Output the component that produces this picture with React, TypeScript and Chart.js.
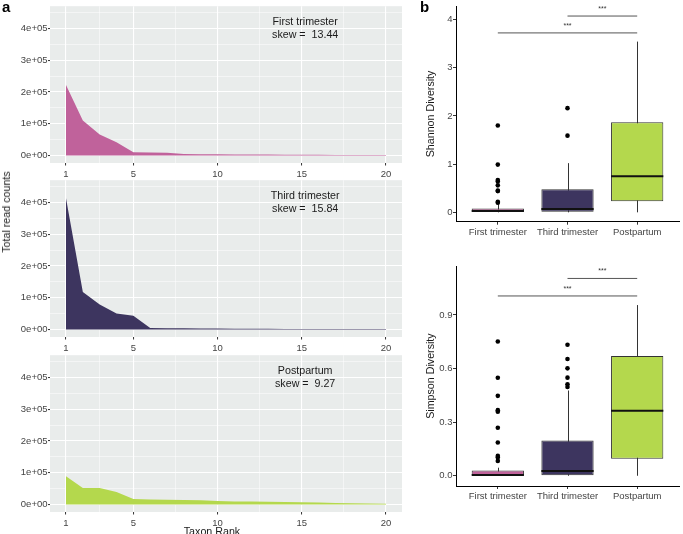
import React, { useEffect, useRef } from "react";
import { Chart, registerables } from "chart.js";

Chart.register(...registerables);

const FONT = '"Liberation Sans", Arial, Helvetica, sans-serif';
Chart.defaults.font.family = FONT;

// ---------- Panel a data ----------
const taxonRanks = [1, 2, 3, 4, 5, 6, 7, 8, 9, 10, 11, 12, 13, 14, 15, 16, 17, 18, 19, 20];
const firstTrimesterCounts = [222000, 110000, 66000, 42000, 10500, 9500, 8500, 5000, 4000, 3500, 3200, 3000, 2800, 2500, 2200, 2000, 1800, 1600, 1400, 1200];
const thirdTrimesterCounts = [413000, 118000, 79000, 50000, 43000, 5000, 4000, 3500, 3000, 2800, 2500, 2200, 2000, 1800, 1600, 1500, 1400, 1300, 1200, 1100];
const postpartumCounts = [88500, 51500, 51500, 39000, 17500, 16000, 15000, 14000, 13000, 11000, 9500, 9000, 8500, 8000, 7000, 6000, 5000, 4000, 3000, 2000];

const groupNames = ["First trimester", "Third trimester", "Postpartum"];
const skewValues = ["13.44", "15.84", "9.27"];
const groupColors = ["#c0629b", "#3d355f", "#b4d84d"];

const rankMajorTicks = [1, 5, 10, 15, 20];
const rankMinorTicks = [3, 7.5, 12.5, 17.5];
const countMajorTicks = [0, 100000, 200000, 300000, 400000];
const countMinorTicks = [50000, 150000, 250000, 350000, 450000];

// ---------- Panel b data ----------
const shannonLow = [0, 0, 0];
const shannonQ1 = [0, 0, 0.23];
const shannonMedian = [0.03, 0.07, 0.75];
const shannonQ3 = [0.08, 0.48, 1.87];
const shannonHigh = [0.17, 1.02, 3.54];
const shannonOutliers = [
  [1.8, 0.99, 0.67, 0.64, 0.56, 0.45, 0.44, 0.22, 0.2],
  [2.16, 1.59],
  [],
];
const shannonTicks = [0, 1, 2, 3, 4];
const shannonBrackets = [
  { from: 2, to: 3, y: 4.07, label: "***" },
  { from: 1, to: 3, y: 3.72, label: "***" },
];

const simpsonLow = [0, 0, 0];
const simpsonQ1 = [0, 0, 0.095];
const simpsonMedian = [0.004, 0.026, 0.364];
const simpsonQ3 = [0.03, 0.197, 0.67];
const simpsonHigh = [0.045, 0.477, 0.955];
const simpsonOutliers = [
  [0.751, 0.548, 0.447, 0.367, 0.358, 0.269, 0.186, 0.111, 0.102, 0.083],
  [0.733, 0.653, 0.601, 0.549, 0.512, 0.497],
  [],
];
const simpsonTicks = [0, 0.3, 0.6, 0.9];
const simpsonBrackets = [
  { from: 2, to: 3, y: 1.104, label: "***" },
  { from: 1, to: 3, y: 1.006, label: "***" },
];

const allCounts = [firstTrimesterCounts, thirdTrimesterCounts, postpartumCounts];

const TICK_COLOR = "#444444";

const panelBgPlugin = {
  id: "panelBg",
  beforeDraw(chart: any) {
    const { ctx, chartArea } = chart;
    ctx.save();
    ctx.fillStyle = "#e9eceb";
    ctx.fillRect(chartArea.left, chartArea.top, chartArea.right - chartArea.left, chartArea.bottom - chartArea.top);
    ctx.restore();
  },
};

function makeAreaConfig(idx: number): any {
  const isMajorX = (v: number) => rankMajorTicks.includes(v);
  const isMajorY = (v: number) => countMajorTicks.includes(v);
  const annotPlugin = {
    id: "annot" + idx,
    afterDatasetsDraw(chart: any) {
      const { ctx, scales } = chart;
      const x = scales.x.getPixelForValue(15.2);
      ctx.save();
      ctx.font = `10.7px ${FONT}`;
      ctx.fillStyle = "#1a1a1a";
      ctx.textAlign = "center";
      ctx.textBaseline = "middle";
      ctx.fillText(groupNames[idx], x, scales.y.getPixelForValue(420000));
      ctx.fillText("skew =  " + skewValues[idx], x, scales.y.getPixelForValue(380000));
      ctx.restore();
    },
  };
  return {
    type: "line",
    data: {
      datasets: [
        {
          data: taxonRanks.map((r, i) => ({ x: r, y: allCounts[idx][i] })),
          fill: "origin",
          backgroundColor: groupColors[idx],
          borderWidth: 0,
          borderColor: groupColors[idx],
          pointRadius: 0,
          tension: 0,
        },
      ],
    },
    options: {
      animation: false,
      responsive: false,
      devicePixelRatio: 1,
      events: [],
      layout: { padding: { top: 3, right: 8, left: 0, bottom: 0 } },
      plugins: { legend: { display: false }, tooltip: { enabled: false } },
      scales: {
        x: {
          type: "linear",
          offset: false,
          min: 0.05,
          max: 20.95,
          afterBuildTicks: (s: any) => {
            s.ticks = [...rankMajorTicks, ...rankMinorTicks].sort((a, b) => a - b).map((v) => ({ value: v }));
          },
          afterFit: (s: any) => {
            s.height = 17;
          },
          border: { display: false },
          grid: {
            color: "#ffffff",
            lineWidth: (c: any) => (isMajorX(c.tick?.value) ? 1.1 : 0.5),
            tickColor: (c: any) => (isMajorX(c.tick?.value) ? "#333333" : "rgba(0,0,0,0)"),
            tickLength: 2.5,
            tickWidth: 1,
          },
          ticks: {
            autoSkip: false,
            maxRotation: 0,
            padding: 3,
            color: TICK_COLOR,
            font: { size: 9.5, family: FONT },
            callback: (v: any) => (isMajorX(v) ? String(v) : ""),
          },
        },
        y: {
          type: "linear",
          min: -23700,
          max: 470000,
          afterBuildTicks: (s: any) => {
            s.ticks = [...countMajorTicks, ...countMinorTicks].sort((a, b) => a - b).map((v) => ({ value: v }));
          },
          afterFit: (s: any) => {
            s.width = 50;
          },
          border: { display: false },
          grid: {
            color: "#ffffff",
            lineWidth: (c: any) => (isMajorY(c.tick?.value) ? 1.1 : 0.5),
            tickColor: (c: any) => (isMajorY(c.tick?.value) ? "#333333" : "rgba(0,0,0,0)"),
            tickLength: 2,
            tickWidth: 1,
          },
          ticks: {
            autoSkip: false,
            padding: 0.5,
            color: TICK_COLOR,
            font: { size: 9.5, family: FONT },
            callback: (v: any) => (isMajorY(v) ? (v === 0 ? "0e+00" : `${v / 100000}e+05`) : ""),
          },
        },
      },
    },
    plugins: [panelBgPlugin, annotPlugin],
  };
}

function makeBoxConfig(
  low: number[],
  q1: number[],
  median: number[],
  q3: number[],
  high: number[],
  outliers: number[][],
  brackets: { from: number; to: number; y: number; label: string }[],
  yTicks: number[],
  yMin: number,
  yMax: number,
  yTitle: string,
  fmt: (v: number) => string,
  xHeight: number
): any {
  const boxPlugin = {
    id: "boxParts",
    beforeDatasetsDraw(chart: any) {
      const { ctx, scales } = chart;
      ctx.save();
      ctx.strokeStyle = "#333333";
      ctx.lineWidth = 1;
      groupNames.forEach((_, i) => {
        const x = Math.round(scales.x.getPixelForValue(i + 1)) + 0.5;
        ctx.beginPath();
        ctx.moveTo(x, scales.y.getPixelForValue(low[i]));
        ctx.lineTo(x, scales.y.getPixelForValue(high[i]));
        ctx.stroke();
      });
      ctx.restore();
    },
    afterDatasetsDraw(chart: any) {
      const { ctx, scales } = chart;
      const meta = chart.getDatasetMeta(0);
      ctx.save();
      ctx.strokeStyle = "#111111";
      ctx.lineWidth = 2;
      groupNames.forEach((_, i) => {
        const bar = meta.data[i];
        const x = scales.x.getPixelForValue(i + 1);
        const w = bar.width;
        const y = scales.y.getPixelForValue(median[i]);
        ctx.beginPath();
        ctx.moveTo(x - w / 2, y);
        ctx.lineTo(x + w / 2, y);
        ctx.stroke();
      });
      ctx.fillStyle = "#333333";
      ctx.font = `7px ${FONT}`;
      ctx.textAlign = "center";
      ctx.textBaseline = "middle";
      brackets.forEach((b) => {
        const x = (scales.x.getPixelForValue(b.from) + scales.x.getPixelForValue(b.to)) / 2;
        ctx.fillText(b.label, x, scales.y.getPixelForValue(b.y) - 7);
      });
      ctx.restore();
    },
  };

  const datasets: any[] = [
    {
      type: "bar",
      data: groupNames.map((_, i) => ({ x: i + 1, y: [q1[i], q3[i]] })),
      backgroundColor: groupColors,
      borderColor: "#333333",
      borderWidth: 1,
      borderSkipped: false,
      barPercentage: 0.75,
      categoryPercentage: 1,
    },
    {
      type: "scatter",
      data: outliers.flatMap((arr, i) => arr.map((v) => ({ x: i + 1, y: v }))),
      pointRadius: 2.3,
      backgroundColor: "#000000",
      borderWidth: 0,
    },
    ...brackets.map((b) => ({
      type: "line",
      data: [
        { x: b.from, y: b.y },
        { x: b.to, y: b.y },
      ],
      borderColor: "#555555",
      borderWidth: 1,
      pointRadius: 0,
      fill: false,
    })),
  ];

  return {
    type: "bar",
    data: { datasets },
    options: {
      animation: false,
      responsive: false,
      devicePixelRatio: 1,
      events: [],
      layout: { padding: { top: 5, right: 0, left: 0, bottom: 0 } },
      plugins: { legend: { display: false }, tooltip: { enabled: false } },
      scales: {
        x: {
          type: "linear",
          offset: false,
          min: 0.4,
          max: 3.6,
          afterBuildTicks: (s: any) => {
            s.ticks = groupNames.map((_, i) => ({ value: i + 1 }));
          },
          afterFit: (s: any) => {
            s.height = xHeight;
          },
          border: { display: true, color: "#000000", width: 1 },
          grid: { offset: false, drawOnChartArea: false, tickColor: "#333333", tickLength: 3, tickWidth: 1 },
          ticks: {
            autoSkip: false,
            maxRotation: 0,
            padding: 1.5,
            color: TICK_COLOR,
            font: { size: 9.5, family: FONT },
            callback: (v: any) => groupNames[v - 1] ?? "",
          },
        },
        y: {
          type: "linear",
          min: yMin,
          max: yMax,
          afterBuildTicks: (s: any) => {
            s.ticks = yTicks.map((v) => ({ value: v }));
          },
          afterFit: (s: any) => {
            s.width = 56;
          },
          border: { display: true, color: "#000000", width: 1 },
          grid: { drawOnChartArea: false, tickColor: "#333333", tickLength: 3, tickWidth: 1 },
          title: {
            display: true,
            text: yTitle,
            color: "#1a1a1a",
            font: { size: 10.7, family: FONT, lineHeight: 1.2 },
            padding: { top: 24.3, bottom: 0 },
          },
          ticks: {
            autoSkip: false,
            padding: 0.5,
            color: TICK_COLOR,
            font: { size: 9.5, family: FONT },
            callback: (v: any) => fmt(v),
          },
        },
      },
    },
    plugins: [boxPlugin],
  };
}

function ChartCanvas(props: { left: number; top: number; width: number; height: number; make: () => any }) {
  const ref = useRef<HTMLCanvasElement>(null);
  useEffect(() => {
    const chart = new Chart(ref.current as HTMLCanvasElement, props.make());
    return () => chart.destroy();
  }, []);
  return (
    <canvas
      ref={ref}
      width={props.width}
      height={props.height}
      style={{ position: "absolute", left: props.left, top: props.top, width: props.width, height: props.height }}
    />
  );
}

export default function App() {
  const labelStyle: React.CSSProperties = {
    position: "absolute",
    fontFamily: FONT,
    whiteSpace: "nowrap",
    color: "#000",
  };
  return (
    <div
      style={{
        position: "fixed",
        left: 0,
        top: 0,
        width: 683,
        height: 534,
        overflow: "hidden",
        background: "#ffffff",
      }}
    >
      <ChartCanvas left={0} top={0} width={410} height={180} make={() => makeAreaConfig(0)} />
      <ChartCanvas left={0} top={173.7} width={410} height={180} make={() => makeAreaConfig(1)} />
      <ChartCanvas left={0} top={348.7} width={410} height={180} make={() => makeAreaConfig(2)} />
      <ChartCanvas
        left={400}
        top={0}
        width={283}
        height={240}
        make={() =>
          makeBoxConfig(shannonLow, shannonQ1, shannonMedian, shannonQ3, shannonHigh, shannonOutliers, shannonBrackets, shannonTicks, -0.194, 4.274, "Shannon Diversity", (v) => String(v), 18.3)
        }
      />
      <ChartCanvas
        left={400}
        top={260}
        width={283}
        height={260}
        make={() =>
          makeBoxConfig(simpsonLow, simpsonQ1, simpsonMedian, simpsonQ3, simpsonHigh, simpsonOutliers, simpsonBrackets, simpsonTicks, -0.0573, 1.1725, "Simpson Diversity", (v) => v.toFixed(1), 34)
        }
      />
      <div style={{ ...labelStyle, left: 2, top: -1, fontSize: 15, fontWeight: "bold", lineHeight: "15px" }}>a</div>
      <div style={{ ...labelStyle, left: 420, top: -1, fontSize: 15, fontWeight: "bold", lineHeight: "15px" }}>b</div>
      <div
        style={{
          ...labelStyle,
          left: 6,
          top: 212,
          fontSize: 10.7,
          color: "#1a1a1a",
          transform: "translate(-50%, -50%) rotate(-90deg)",
        }}
      >
        Total read counts
      </div>
      <div
        style={{
          ...labelStyle,
          left: 212,
          top: 530.7,
          fontSize: 10.7,
          color: "#1a1a1a",
          transform: "translate(-50%, -50%)",
        }}
      >
        Taxon Rank
      </div>
    </div>
  );
}
